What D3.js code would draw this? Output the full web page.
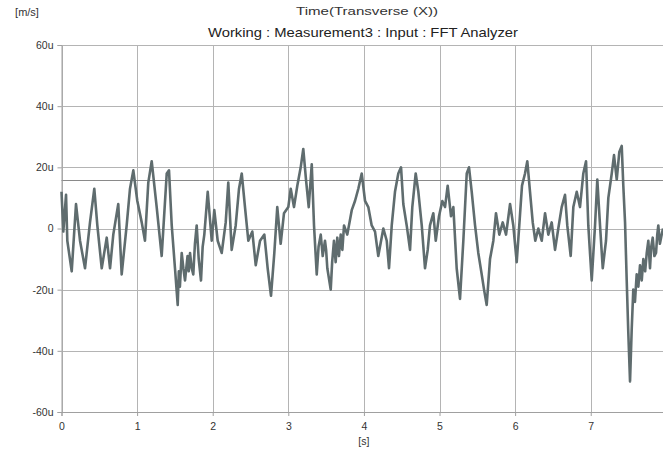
<!DOCTYPE html>
<html>
<head>
<meta charset="utf-8">
<script src="https://cdn.jsdelivr.net/npm/d3@7"></script>
<style>
  html, body { margin: 0; padding: 0; background: #fff; }
  svg { display: block; font-family: "Liberation Sans", Arial, sans-serif; }
</style>
</head>
<body>
<svg id="chart" width="663" height="452"></svg>
<script>
// ---- data (time in s, velocity in µm/s) ----
const times = [
  0.000,0.024,0.060,0.077,0.135,0.192,0.245,0.311,0.377,0.434,
  0.474,0.532,0.598,0.642,0.685,0.751,0.796,0.862,0.906,0.950,
  1.003,1.061,1.104,1.148,1.193,1.259,1.325,1.392,1.422,1.458,
  1.501,1.537,1.552,1.566,1.590,1.612,1.634,1.667,1.683,1.700,
  1.722,1.743,1.765,1.788,1.815,1.845,1.867,1.889,1.934,1.987,
  2.021,2.066,2.119,2.172,2.206,2.251,2.304,2.348,2.384,2.427,
  2.471,2.524,2.569,2.626,2.683,2.727,2.771,2.815,2.854,2.899,
  2.943,3.000,3.032,3.075,3.119,3.164,3.198,3.234,3.270,3.310,
  3.340,3.376,3.400,3.429,3.455,3.485,3.500,3.516,3.561,3.580,
  3.604,3.626,3.648,3.670,3.693,3.715,3.737,3.780,3.839,3.882,
  3.926,3.971,4.015,4.058,4.103,4.147,4.190,4.257,4.302,4.332,
  4.368,4.411,4.455,4.491,4.521,4.566,4.610,4.640,4.685,4.720,
  4.765,4.808,4.844,4.874,4.918,4.950,4.993,5.037,5.073,5.108,
  5.152,5.183,5.227,5.271,5.315,5.360,5.390,5.426,5.470,5.513,
  5.558,5.589,5.624,5.668,5.712,5.747,5.791,5.836,5.880,5.933,
  5.976,6.021,6.055,6.091,6.131,6.161,6.197,6.233,6.267,6.307,
  6.352,6.396,6.439,6.484,6.528,6.571,6.616,6.660,6.690,6.735,
  6.770,6.815,6.858,6.902,6.938,6.968,7.013,7.057,7.087,7.123,
  7.159,7.202,7.233,7.278,7.308,7.344,7.378,7.410,7.431,7.454,
  7.476,7.497,7.520,7.542,7.563,7.585,7.608,7.630,7.652,7.675,
  7.696,7.720,7.741,7.762,7.784,7.800,7.820,7.842,7.864,7.880,
  7.894,7.915,7.939,7.956
];
const values = [
  12,-1,11,-4,-14,8,-4,-13,2,13,
  1,-13,-3,-13,-2,8,-15,1,13,19,
  9,2,-4,15,22,7,-9,18,19,1,
  -13,-25,-14,-19,-8,-13,-17,-9,-14,-8,
  -13,-15,-5,1,-10,-17,-6,-2,12,-4,
  6,-4,-8,2,15,-7,1,13,18,7,
  -4,-1,-12,-4,-2,-13,-22,-8,7,-5,
  5,7,13,7,14,20,26,16,7,21,
  1,-15,-6,-2,-9,-4,-7,-13,-20,-11,
  -4,-11,-3,-9,-2,-7,1,-2,6,9,
  13,18,9,7,1,-1,-9,0,-4,-13,
  1,12,18,20,8,1,-7,7,18,12,
  1,-13,-7,1,5,-4,4,9,7,14,
  4,7,-13,-23,-4,18,20,12,1,-8,
  -15,-20,-25,-10,-4,5,-2,2,-2,8,
  1,-11,1,14,18,22,12,2,-4,0,
  -4,5,-2,2,-7,0,7,11,1,-9,
  7,12,7,18,22,1,-17,1,16,1,
  -13,-4,10,18,24,16,25,27,14,2,
  -17,-34,-50,-33,-20,-24,-15,-19,-12,-17,
  -10,-14,-8,-4,-13,-6,-3,-9,-8,-2,
  1,-5,-2,0
];
const refLevel = 16;                       // horizontal reference line (µm/s)
const yTicks = [60, 40, 20, 0, -20, -40, -60];
const yTickLabels = ["60u", "40u", "20u", "0", "-20u", "-40u", "-60u"];
const xTicks = [0, 1, 2, 3, 4, 5, 6, 7];
const xTickLabels = ["0", "1", "2", "3", "4", "5", "6", "7"];
const unitLabel = "[m/s]";
const titleTop = "Time(Transverse (X))";
const titleMain = "Working : Measurement3 : Input : FFT Analyzer";
const xAxisLabel = "[s]";

// ---- layout ----
const svg = d3.select("#chart");
const mLeft = 61.5, mRight = 663, mTop = 45, mBottom = 412;
const x = d3.scaleLinear().domain([0, 7.956]).range([mLeft, mRight]);
const y = d3.scaleLinear().domain([-60, 60]).range([mBottom, mTop]);

const gridColor = "#b4b4b4";
const textColor = "#333";

// grid
svg.append("g").selectAll("line").data(yTicks).join("line")
  .attr("x1", mLeft).attr("x2", mRight)
  .attr("y1", d => Math.round(y(d)) + 0.5).attr("y2", d => Math.round(y(d)) + 0.5)
  .attr("stroke", gridColor).attr("stroke-width", 1);
svg.append("g").selectAll("line").data(xTicks).join("line")
  .attr("x1", d => Math.round(x(d)) + 0.5).attr("x2", d => Math.round(x(d)) + 0.5)
  .attr("y1", mTop).attr("y2", mBottom)
  .attr("stroke", gridColor).attr("stroke-width", 1);

// reference line
svg.append("line")
  .attr("x1", mLeft).attr("x2", mRight)
  .attr("y1", Math.round(y(refLevel)) + 0.5).attr("y2", Math.round(y(refLevel)) + 0.5)
  .attr("stroke", "#8a8a8a").attr("stroke-width", 1.2);

// axes
const yAxis = d3.axisLeft(y).tickValues(yTicks).tickSize(4).tickPadding(4)
  .tickFormat((d, i) => yTickLabels[i]);
const gy = svg.append("g").attr("transform", `translate(${mLeft},0)`).call(yAxis);
const xAxis = d3.axisBottom(x).tickValues(xTicks).tickSize(4).tickPadding(7)
  .tickFormat((d, i) => xTickLabels[i]);
const gx = svg.append("g").attr("transform", `translate(0,${mBottom})`).call(xAxis);
[gx, gy].forEach(g => {
  g.select(".domain").attr("stroke", "#a0a0a0");
  g.selectAll(".tick line").attr("stroke", "#a0a0a0");
  g.selectAll(".tick text").attr("fill", textColor).attr("font-size", 10.5)
    .attr("font-family", "'Liberation Sans', Arial, sans-serif");
});

// signal
const line = d3.line().x((d, i) => x(times[i])).y(d => y(d));
svg.append("path").datum(values)
  .attr("d", line)
  .attr("fill", "none")
  .attr("stroke", "#5f6c6e")
  .attr("stroke-width", 2.6)
  .attr("stroke-linejoin", "round");

// texts
svg.append("text").attr("x", 27).attr("y", 16).attr("text-anchor", "middle")
  .attr("font-size", 11).attr("fill", textColor).text(unitLabel);
svg.append("text").attr("x", 367).attr("y", 15).attr("text-anchor", "middle")
  .attr("font-size", 11).attr("fill", textColor)
  .attr("textLength", 142).attr("lengthAdjust", "spacingAndGlyphs").text(titleTop);
svg.append("text").attr("x", 363).attr("y", 37).attr("text-anchor", "middle")
  .attr("font-size", 13).attr("fill", "#222")
  .attr("textLength", 310).attr("lengthAdjust", "spacingAndGlyphs").text(titleMain);
svg.append("text").attr("x", x(4)).attr("y", 445).attr("text-anchor", "middle")
  .attr("font-size", 10.5).attr("fill", textColor).text(xAxisLabel);
</script>
</body>
</html>
